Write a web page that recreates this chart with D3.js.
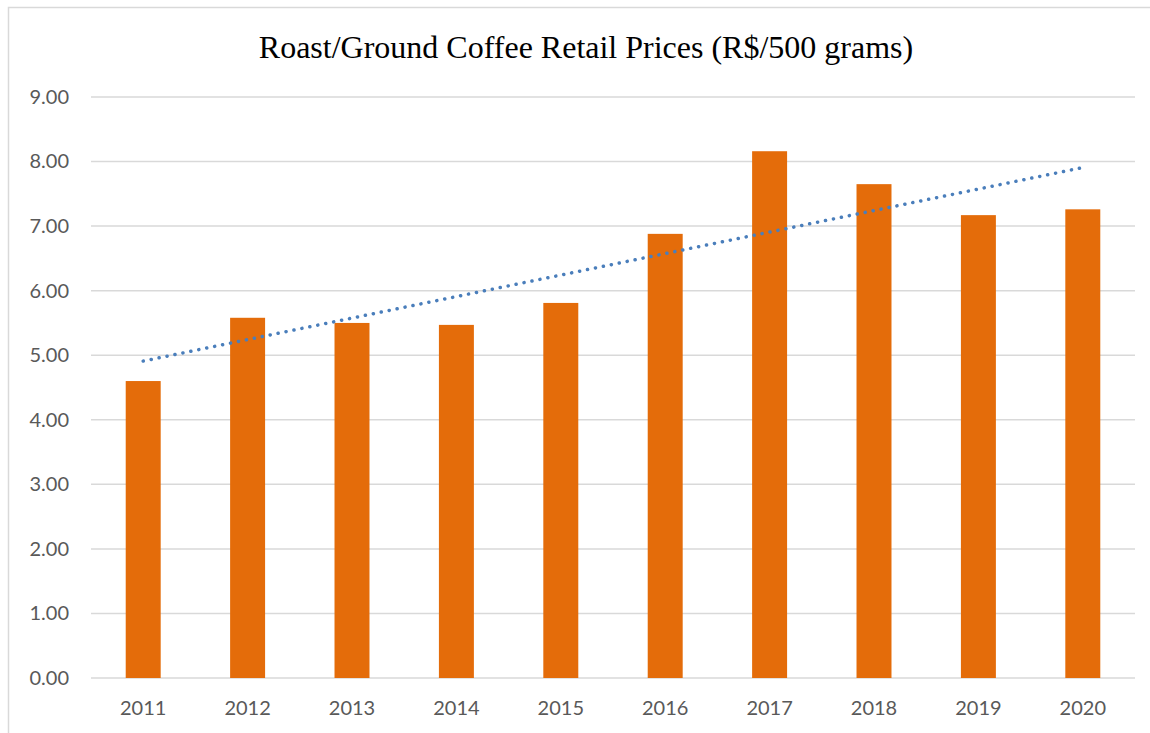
<!DOCTYPE html>
<html>
<head>
<meta charset="utf-8">
<script src="https://cdn.jsdelivr.net/npm/d3@7"></script>
<style>
  body { margin: 0; background: #fff; }
  .tick text { font-family: Lato, "Open Sans", sans-serif; fill: #595959; }
</style>
</head>
<body>
<div id="chart"></div>
<script>
const years = ["2011", "2012", "2013", "2014", "2015", "2016", "2017", "2018", "2019", "2020"];
const prices = [4.60, 5.58, 5.50, 5.47, 5.81, 6.88, 8.16, 7.65, 7.17, 7.26];
const yTicks = [0, 1, 2, 3, 4, 5, 6, 7, 8, 9];

const W = 1150, H = 733;
const margin = {top: 97, right: 15, bottom: 55, left: 91};
const width = W - margin.left - margin.right,
      height = H - margin.top - margin.bottom;

const svg = d3.select("#chart").append("svg")
    .attr("width", W)
    .attr("height", H);

// outer chart border
svg.append("rect")
    .attr("x", 8.5).attr("y", 7.5)
    .attr("width", W + 20).attr("height", H + 20)
    .attr("fill", "none")
    .attr("stroke", "#d9d9d9")
    .attr("stroke-width", 1.5);

svg.append("text")
    .attr("x", 586).attr("y", 58)
    .attr("text-anchor", "middle")
    .style("font-family", "'Liberation Serif', 'Times New Roman', serif")
    .style("font-size", "32px")
    .style("fill", "#000")
    .text("Roast/Ground Coffee Retail Prices (R$/500 grams)");

const g = svg.append("g")
    .attr("transform", `translate(${margin.left}, ${margin.top})`);

const x = d3.scaleBand()
    .domain(years)
    .range([0, width])
    .padding(0);

const y = d3.scaleLinear()
    .domain([0, 9])
    .range([height, 0]);

// gridlines
g.append("g")
    .selectAll("line")
    .data(yTicks)
    .enter().append("line")
    .attr("x1", 0).attr("x2", width)
    .attr("y1", d => y(d)).attr("y2", d => y(d))
    .attr("stroke", "#d9d9d9")
    .attr("stroke-width", 1.5);

// y axis labels
const yAxis = g.append("g")
    .call(d3.axisLeft(y).tickValues(yTicks).tickFormat(d3.format(".2f")).tickSize(0).tickPadding(22));
yAxis.select(".domain").remove();
yAxis.selectAll("text").style("font-size", "20px");

// x axis labels
const xAxis = g.append("g")
    .attr("transform", `translate(0, ${height})`)
    .call(d3.axisBottom(x).tickSize(0).tickPadding(23));
xAxis.select(".domain").remove();
xAxis.selectAll("text").style("font-size", "20px");

// bars
const barW = x.bandwidth() * 0.335;
g.selectAll(".bar")
    .data(years.map((yr, i) => ({year: yr, value: prices[i]})))
    .enter().append("rect")
    .attr("class", "bar")
    .attr("x", d => x(d.year) + (x.bandwidth() - barW) / 2)
    .attr("width", barW)
    .attr("y", d => y(d.value))
    .attr("height", d => height - y(d.value))
    .attr("fill", "#E46C0A");

// linear trendline (least squares)
const n = prices.length;
const xs = d3.range(1, n + 1);
const mx = d3.mean(xs), my = d3.mean(prices);
const slope = d3.sum(xs, (v, i) => (v - mx) * (prices[i] - my)) / d3.sum(xs, v => (v - mx) * (v - mx));
const icpt = my - slope * mx;

const line = d3.line()
    .x((d, i) => x(years[i]) + x.bandwidth() / 2)
    .y(d => y(icpt + slope * d));

g.append("path")
    .datum(xs)
    .attr("d", line)
    .attr("fill", "none")
    .attr("stroke", "#4A7EBB")
    .attr("stroke-width", 3.5)
    .attr("stroke-linecap", "round")
    .attr("stroke-dasharray", "0.1 8");
</script>
</body>
</html>
